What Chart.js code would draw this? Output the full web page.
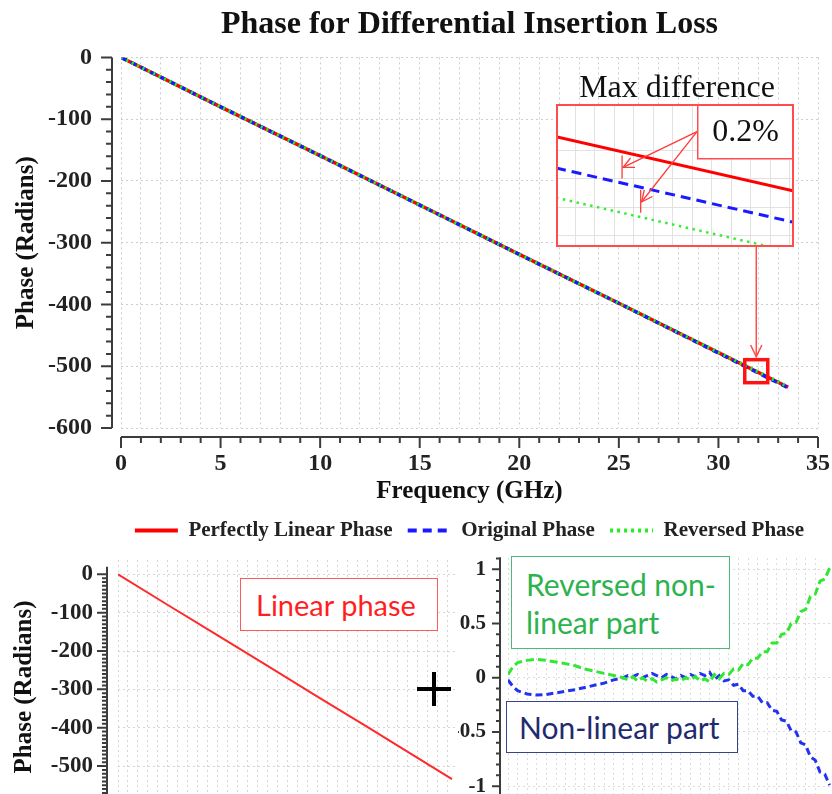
<!DOCTYPE html>
<html>
<head>
<meta charset="utf-8">
<title>Phase for Differential Insertion Loss</title>
<script src="https://cdn.jsdelivr.net/npm/chart.js@4.4.1/dist/chart.umd.min.js"></script>
<style>
  html, body { margin: 0; padding: 0; background: #fff; overflow: hidden; }
  #page { position: relative; width: 832px; height: 794px; overflow: hidden; background: #fff; }
  #page canvas { position: absolute; display: block; }
  .note {
    position: absolute; box-sizing: border-box; background: #fff;
    font-family: Lato, "Open Sans", "Noto Sans", sans-serif; white-space: nowrap;
  }
  #linNote { left: 240px; top: 578px; width: 198px; height: 53px; border: 1.5px solid #ff5a5a;
             color: #ff1f1f; font-size: 29px; display: flex; align-items: center; padding-left: 15px; }
  #revNote { left: 511px; top: 556px; width: 219px; height: 93px; border: 1.5px solid #4cbb7a;
             color: #2db34e; font-size: 30px; line-height: 38px; padding: 8px 0 0 14px; }
  #nlNote  { left: 506px; top: 701px; width: 232px; height: 52px; border: 1.5px solid #34438a;
             color: #1f2b6e; font-size: 30px; display: flex; align-items: center; padding-left: 12px; }
  .bar { position: absolute; background: #000; }
</style>
</head>
<body>
<div id="page">
  <canvas id="mainChart" width="832" height="551" style="left:0;top:0"></canvas>
  <canvas id="zoomChart" width="238" height="143" style="left:556px;top:104px"></canvas>
  <canvas id="linearChart" width="458" height="266" style="left:0;top:548px"></canvas>
  <canvas id="nonlinearChart" width="374" height="266" style="left:458px;top:548px"></canvas>
  <div class="note" id="linNote">Linear phase</div>
  <div class="note" id="revNote">Reversed non-<br>linear part</div>
  <div class="note" id="nlNote">Non-linear part</div>
  <div class="bar" style="left:417px;top:687px;width:34px;height:4px"></div>
  <div class="bar" style="left:432px;top:672px;width:4px;height:34px"></div>
</div>
<script>
// ---- data -------------------------------------------------------------
const freqGHz       = [0, 5, 10, 15, 20, 25, 30, 33.5];
const linearPhase   = [0, -80, -159, -239, -319, -398, -478, -534];
const originalPhase = [0, -80.1, -159.1, -239.1, -318.9, -398.1, -478.6, -535.0];
const reversedPhase = [0, -79.9, -158.9, -238.9, -319.1, -397.9, -477.4, -533.0];
const seriesNames   = ['Perfectly Linear Phase', 'Original Phase', 'Reversed Phase'];

const phaseTicks      = [0, -100, -200, -300, -400, -500, -600];
const panelPhaseTicks = [0, -100, -200, -300, -400, -500];

// non-linear part of the phase (original minus linear) and its reversed twin
const nlFreq = [0, 0.5, 1, 2, 3, 4, 5, 6, 7, 8, 9, 10, 11, 12, 12.5, 13, 13.5, 14, 14.5, 15,
                15.5, 16, 16.5, 17, 17.5, 18, 18.5, 19, 19.5, 20, 20.5, 21, 21.5, 22, 22.5, 23,
                23.5, 24, 24.5, 25, 25.5, 26, 26.5, 27, 27.5, 28, 28.5, 29, 29.5, 30, 30.5,
                31, 31.5, 32, 32.5, 33, 33.5];
const nonLinearPart = [-0.02, -0.08, -0.12, -0.15, -0.16, -0.155, -0.14, -0.125, -0.11, -0.09, -0.07, -0.05, -0.02,
                0.0, 0.02, 0.01, 0.03, 0.0, 0.02, 0.04, 0.02, 0.0, 0.03, 0.01, -0.01, 0.02, 0.0, 0.03, 0.01,
                0.04, 0.02, 0.05, -0.02, 0.02, -0.03, -0.02,
                -0.07, -0.06, -0.12, -0.12, -0.17, -0.17, -0.23, -0.23, -0.30, -0.31, -0.39, -0.40, -0.49,
                -0.50, -0.60, -0.62, -0.73, -0.76, -0.87, -0.89, -0.99];
const reversedNonLinear = [0.03, 0.10, 0.14, 0.16, 0.17, 0.16, 0.145, 0.13, 0.11, 0.08, 0.06, 0.04, 0.02,
                0.0, -0.02, 0.01, -0.03, 0.0, -0.03, -0.01, -0.04, -0.02, 0.0, -0.03, -0.01, -0.03, 0.0, -0.02, 0.01,
                -0.03, -0.01, -0.04, 0.03, -0.01, 0.04, 0.03,
                0.08, 0.07, 0.13, 0.12, 0.18, 0.18, 0.24, 0.24, 0.32, 0.32, 0.40, 0.41, 0.50,
                0.51, 0.61, 0.63, 0.75, 0.77, 0.89, 0.91, 1.01];
const nlTicks = [1, 0.5, 0, -0.5, -1];

// close-up around 32 GHz
const zoomFreq     = [31.95, 32.06];
const zoomLinear   = [-509.05, -510.79];
const zoomOriginal = [-510.05, -511.79];
const zoomReversed = [-511.0, -512.75];
const zoomGridFreq  = [31.959, 31.968, 31.977, 31.986, 31.995, 32.004, 32.013, 32.022, 32.031, 32.040, 32.049, 32.058];
const zoomGridPhase = [-509.5, -510.4, -511.3, -512.2];

// ---- helpers ----------------------------------------------------------
const SERIF = '"Liberation Serif", "Times New Roman", serif';
const pts = (xs, ys) => xs.map((x, i) => ({ x, y: ys[i] }));
const bold = size => ({ family: SERIF, size, weight: 'bold' });

// keep label padding from shrinking the plot area
const fixWidth = w => s => { s.width = w; s.paddingTop = 0; s.paddingBottom = 0; };
const fixHeight = h => s => { s.height = h; s.paddingLeft = 0; s.paddingRight = 0; };

function arrowHead(ctx, x0, y0, x1, y1, len) {
  const a = Math.atan2(y1 - y0, x1 - x0);
  ctx.beginPath();
  ctx.moveTo(x1 - len * Math.cos(a - 0.45), y1 - len * Math.sin(a - 0.45));
  ctx.lineTo(x1, y1);
  ctx.lineTo(x1 - len * Math.cos(a + 0.45), y1 - len * Math.sin(a + 0.45));
  ctx.stroke();
}
function arrow(ctx, x0, y0, x1, y1, len) {
  ctx.beginPath(); ctx.moveTo(x0, y0); ctx.lineTo(x1, y1); ctx.stroke();
  arrowHead(ctx, x0, y0, x1, y1, len);
}

// Offset axis lines with major / minor tick marks
const axisFrame = {
  id: 'axisFrame',
  afterDraw(chart, args, o) {
    const { ctx, scales: { x, y } } = chart;
    ctx.save();
    ctx.strokeStyle = o.color;
    ctx.lineWidth = o.width;
    ctx.beginPath();
    const ax = x.left - o.gap;
    ctx.moveTo(ax, y.getPixelForValue(o.yLine[0]));
    ctx.lineTo(ax, y.getPixelForValue(o.yLine[1]));
    const ny = Math.round((o.yTicks[0] - o.yTicks[1]) / o.yStep);
    for (let i = 0; i <= ny; i++) {
      const v = o.yTicks[0] - i * o.yStep;
      const r = v / o.yMajor;
      const major = Math.abs(r - Math.round(r)) < 1e-6;
      const p = y.getPixelForValue(v);
      ctx.moveTo(ax, p);
      ctx.lineTo(ax - (major ? o.majorLen : o.minorLen), p);
    }
    if (o.xLine) {
      const ay = y.bottom + o.gap;
      ctx.moveTo(x.getPixelForValue(o.xLine[0]), ay);
      ctx.lineTo(x.getPixelForValue(o.xLine[1]), ay);
      const nx = Math.round((o.xLine[1] - o.xLine[0]) / o.xStep);
      for (let i = 0; i <= nx; i++) {
        const v = o.xLine[0] + i * o.xStep;
        const major = Math.abs(v / o.xMajor - Math.round(v / o.xMajor)) < 1e-6;
        const p = x.getPixelForValue(v);
        ctx.moveTo(p, ay);
        ctx.lineTo(p, ay + (major ? o.majorLen : o.minorLen));
      }
    }
    ctx.stroke();
    ctx.restore();
  }
};

// Marker square at the close-up location, link to the close-up panel, caption
const zoomLink = {
  id: 'zoomLink',
  afterDraw(chart, args, o) {
    const { ctx, scales: { x, y } } = chart;
    const cx = x.getPixelForValue(o.at[0]);
    const cy = y.getPixelForValue(o.at[1]);
    ctx.save();
    ctx.strokeStyle = '#ff1212';
    ctx.lineWidth = 3.5;
    ctx.strokeRect(cx - o.half, cy - o.half, o.half * 2, o.half * 2);
    ctx.strokeStyle = '#ff4d4d';
    ctx.lineWidth = 1.5;
    arrow(ctx, cx, o.fromY, cx, cy - o.half - 3, 13);
    ctx.fillStyle = '#111';
    ctx.font = '32px ' + SERIF;
    ctx.textAlign = 'center';
    ctx.textBaseline = 'alphabetic';
    ctx.fillText(o.caption, o.captionX, o.captionY);
    ctx.restore();
  }
};

// Close-up frame, value box and pointer arrows
const zoomCallout = {
  id: 'zoomCallout',
  beforeDraw(chart) {
    const { ctx, width, height } = chart;
    ctx.save(); ctx.fillStyle = '#fff'; ctx.fillRect(0, 0, width, height); ctx.restore();
  },
  afterDraw(chart, args, o) {
    const { ctx, width, height, scales: { x, y } } = chart;
    ctx.save();
    ctx.strokeStyle = '#ff3a3a';
    ctx.lineWidth = 1.3;
    for (const [fx, py] of o.targets) {
      const tx = x.getPixelForValue(fx), ty = y.getPixelForValue(py);
      arrow(ctx, o.boxX, o.fromY, tx, ty, 12);
      ctx.beginPath(); ctx.moveTo(tx - 1, ty - 12); ctx.lineTo(tx - 1, ty + 11); ctx.stroke();
    }
    ctx.fillStyle = '#fff';
    ctx.fillRect(o.boxX, 0, width - o.boxX, o.boxH);
    ctx.strokeStyle = '#ff4c4c';
    ctx.lineWidth = 1.5;
    ctx.strokeRect(o.boxX + 0.75, 0.75, width - o.boxX - 1.5, o.boxH);
    ctx.fillStyle = '#111';
    ctx.font = '32px ' + SERIF;
    ctx.textAlign = 'center';
    ctx.textBaseline = 'middle';
    ctx.fillText(o.text, (o.boxX + width) / 2, o.boxH / 2 + 2);
    ctx.strokeStyle = '#ff4c4c';
    ctx.lineWidth = 2;
    ctx.strokeRect(1, 1, width - 2, height - 2);
    ctx.restore();
  }
};

const gridDots = { display: false, dash: [2, 3] };

// legend samples: longer dashes than the plotted lines so the pattern reads clearly
const legendDash = [[], [9, 6], [3, 4]];

// legend entries in dataset order, drawn with each series' own dash pattern
function legendItems(chart) {
  const items = Chart.defaults.plugins.legend.labels.generateLabels(chart);
  items.sort((a, b) => a.datasetIndex - b.datasetIndex);
  items.forEach((it, i) => {
    const ds = chart.data.datasets[it.datasetIndex];
    it.lineDash = legendDash[it.datasetIndex];
    it.lineWidth = 4;
    it.strokeStyle = ds.borderColor;
    if (i < items.length - 1) it.text += '\u00a0';
  });
  return items;
}

// ---- main chart --------------------------------------------------------
new Chart(document.getElementById('mainChart'), {
  type: 'line',
  data: {
    datasets: [
      { label: seriesNames[0], data: pts(freqGHz, linearPhase), borderColor: '#ff0000',
        borderWidth: 3.5, pointRadius: 0, order: 2 },
      { label: seriesNames[1], data: pts(freqGHz, originalPhase), borderColor: '#1a1aff',
        borderWidth: 3.5, borderDash: [6, 5], pointRadius: 0, order: 1 },
      { label: seriesNames[2], data: pts(freqGHz, reversedPhase), borderColor: '#22ee22',
        borderWidth: 3.5, borderDash: [2, 4], pointRadius: 0, order: 0 }
    ]
  },
  options: {
    responsive: false, animation: false, devicePixelRatio: 1,
    layout: { padding: { left: 0, right: 14, top: 0, bottom: 0 } },
    scales: {
      x: {
        type: 'linear', min: 0, max: 35,
        afterFit: fixHeight(82),
        ticks: { stepSize: 1, autoSkip: false, maxRotation: 0, padding: 21.6, font: bold(24), color: '#222',
                 callback: v => (v % 5 === 0 ? v : '') },
        grid: { color: '#cdcdcd', lineWidth: 1, drawTicks: false },
        border: gridDots,
        title: { display: true, text: 'Frequency (GHz)', font: bold(25), color: '#111',
                 padding: { top: 0, bottom: 3 } }
      },
      y: {
        min: -600, max: 0,
        afterFit: fixWidth(121),
        afterBuildTicks: s => { s.ticks = phaseTicks.map(value => ({ value })); },
        ticks: { padding: 29, font: bold(24), color: '#222' },
        grid: { color: '#cdcdcd', lineWidth: 1, drawTicks: false },
        border: gridDots,
        title: { display: true, text: 'Phase (Radians)', font: bold(25), color: '#111',
                 padding: { top: 12, bottom: 0 } }
      }
    },
    plugins: {
      title: { display: true, text: 'Phase for Differential Insertion Loss', fullSize: false,
               font: bold(32), color: '#111', padding: { top: 6, bottom: 13 } },
      legend: { position: 'bottom', fullSize: false,
                labels: { usePointStyle: true, pointStyle: 'line', pointStyleWidth: 43, padding: 10,
                          font: bold(21), color: '#222', generateLabels: legendItems } },
      tooltip: { enabled: false },
      axisFrame: { gap: 9, color: '#3c3c3c', width: 2, yLine: [0, -600], yTicks: [0, -600], yStep: 20, yMajor: 100,
                   xLine: [0, 35], xStep: 1, xMajor: 5, majorLen: 11, minorLen: 6 },
      zoomLink: { at: [31.9, -508], half: 11.5, fromY: 247, caption: 'Max difference', captionX: 677, captionY: 97 }
    }
  },
  plugins: [axisFrame, zoomLink]
});

// ---- close-up panel ----------------------------------------------------
new Chart(document.getElementById('zoomChart'), {
  type: 'line',
  data: {
    datasets: [
      { data: pts(zoomFreq, zoomLinear), borderColor: '#ff0000', borderWidth: 3, pointRadius: 0 },
      { data: pts(zoomFreq, zoomOriginal), borderColor: '#1a1aff', borderWidth: 3, borderDash: [10, 6], pointRadius: 0 },
      { data: pts(zoomFreq, zoomReversed), borderColor: '#33ee33', borderWidth: 2.5, borderDash: [2.5, 4.5], pointRadius: 0 }
    ]
  },
  options: {
    responsive: false, animation: false, devicePixelRatio: 1,
    layout: { padding: 0 },
    scales: {
      x: { type: 'linear', min: 31.95, max: 32.06,
           afterBuildTicks: s => { s.ticks = zoomGridFreq.map(value => ({ value })); },
           ticks: { display: false }, grid: { color: '#e2e2e2', drawTicks: false }, border: { display: false } },
      y: { min: -512.58, max: -508.0,
           afterBuildTicks: s => { s.ticks = zoomGridPhase.map(value => ({ value })); },
           ticks: { display: false }, grid: { color: '#e2e2e2', drawTicks: false }, border: { display: false } }
    },
    plugins: {
      legend: { display: false }, tooltip: { enabled: false },
      zoomCallout: { boxX: 141, boxH: 54, fromY: 27.7, text: '0.2%',
                     targets: [[31.981, -510.03], [31.9896, -511.13]] }
    }
  },
  plugins: [zoomCallout]
});

// ---- lower left: linear phase -----------------------------------------
new Chart(document.getElementById('linearChart'), {
  type: 'line',
  data: { datasets: [
    { data: pts(freqGHz, linearPhase), borderColor: '#ff2a2a', borderWidth: 2, pointRadius: 0 }
  ] },
  options: {
    responsive: false, animation: false, devicePixelRatio: 1,
    layout: { padding: { top: 12, left: 0, right: 0, bottom: 0 } },
    scales: {
      x: { type: 'linear', min: 0, max: 34.1,
           afterFit: fixHeight(0),
           ticks: { display: false, stepSize: 1, autoSkip: false },
           grid: { color: '#d6d6d6', drawTicks: false }, border: gridDots },
      y: { min: -625, max: 37.3,
           afterFit: fixWidth(118),
           afterBuildTicks: s => { s.ticks = panelPhaseTicks.map(value => ({ value })); },
           ticks: { padding: 25, font: bold(23), color: '#222' },
           grid: { color: '#d6d6d6', drawTicks: false }, border: gridDots,
           title: { display: true, text: 'Phase (Radians)', font: bold(25), color: '#111',
                    padding: { top: 10, bottom: 0 } } }
    },
    plugins: {
      legend: { display: false }, tooltip: { enabled: false },
      axisFrame: { gap: 11, color: '#3c3c3c', width: 2, yLine: [20, -625], yTicks: [0, -620], yStep: 10, yMajor: 100,
                   majorLen: 10, minorLen: 5 }
    }
  },
  plugins: [axisFrame]
});

// ---- lower right: non-linear parts ------------------------------------
new Chart(document.getElementById('nonlinearChart'), {
  type: 'line',
  data: { datasets: [
    { data: pts(nlFreq, reversedNonLinear), borderColor: '#33e633', borderWidth: 3, borderDash: [8, 4], pointRadius: 0 },
    { data: pts(nlFreq, nonLinearPart), borderColor: '#2233ee', borderWidth: 3, borderDash: [7, 4], pointRadius: 0 }
  ] },
  options: {
    responsive: false, animation: false, devicePixelRatio: 1,
    layout: { padding: { top: 10, left: 0, right: 0, bottom: 0 } },
    scales: {
      x: { type: 'linear', min: 0, max: 33.75,
           afterFit: fixHeight(0),
           ticks: { display: false, stepSize: 1, autoSkip: false },
           grid: { color: '#dcdcdc', drawTicks: false }, border: gridDots },
      y: { min: -1.257, max: 1.104,
           afterFit: fixWidth(50),
           afterBuildTicks: s => { s.ticks = nlTicks.map(value => ({ value })); },
           ticks: { padding: 22, font: bold(21), color: '#222', callback: v => String(v) },
           grid: { color: '#dcdcdc', drawTicks: false }, border: gridDots }
    },
    plugins: {
      legend: { display: false }, tooltip: { enabled: false },
      axisFrame: { gap: 8, color: '#3c3c3c', width: 2, yLine: [1.11, -1.257], yTicks: [1.1, -1.2], yStep: 0.1, yMajor: 0.5,
                   majorLen: 8, minorLen: 4 }
    }
  },
  plugins: [axisFrame]
});
</script>
</body>
</html>
